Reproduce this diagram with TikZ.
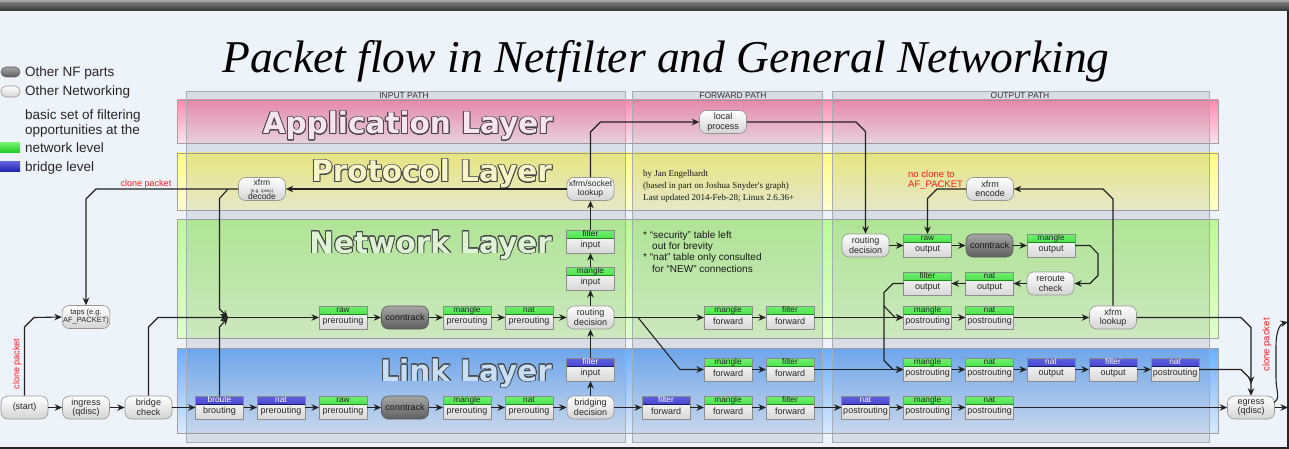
\documentclass[tikz,border=0pt]{standalone}
\usepackage{fontspec}
\setmainfont{Liberation Sans}
\newfontfamily\titlefont{Liberation Serif}
\newfontfamily\layerfont{DejaVu Sans}
\usepackage{contour}
\contourlength{0.8pt}
\contournumber{24}
\usetikzlibrary{arrows.meta,calc}

\definecolor{bgclr}{RGB}{238,242,249}
\definecolor{lineclr}{RGB}{34,34,34}
\definecolor{netborder}{RGB}{150,150,150}
\definecolor{nodegray}{RGB}{212,212,212}
\definecolor{nfTop}{RGB}{165,165,165}
\definecolor{nfBot}{RGB}{95,95,95}
\definecolor{nfborder}{RGB}{90,90,90}
\definecolor{gtop}{RGB}{110,240,110}
\definecolor{gbot}{RGB}{30,200,30}
\definecolor{btop}{RGB}{95,95,225}
\definecolor{bbot}{RGB}{32,32,168}
\definecolor{tblborder}{RGB}{140,140,140}
\definecolor{tblbottom}{RGB}{216,216,216}
\definecolor{appTop}{RGB}{255,140,176}
\definecolor{appBot}{RGB}{255,226,236}
\definecolor{protoTop}{RGB}{255,252,127}
\definecolor{protoBot}{RGB}{255,255,212}
\definecolor{netTop}{RGB}{188,250,151}
\definecolor{netBot}{RGB}{224,255,202}
\definecolor{linkTop}{RGB}{108,174,255}
\definecolor{linkBot}{RGB}{217,234,255}
\definecolor{panelfill}{RGB}{120,130,145}
\definecolor{panelborder}{RGB}{165,172,182}
\definecolor{layerborder}{RGB}{160,160,160}
\definecolor{layeroutline}{RGB}{70,70,70}
\definecolor{appfill}{RGB}{248,228,236}
\definecolor{protofill}{RGB}{246,244,200}
\definecolor{netfill}{RGB}{222,242,212}
\definecolor{linkfill}{RGB}{200,222,245}
\definecolor{redtxt}{RGB}{255,30,30}

\tikzset{
  netnode/.style={draw=netborder, line width=0.6pt, rounded corners=7pt, top color=white, bottom color=nodegray,
    minimum width=47pt, minimum height=23pt, inner sep=1pt, align=center,
    font=\fontsize{9}{9.5}\selectfont, text=black!85},
  nfnode/.style={netnode, top color=nfTop, bottom color=nfBot, draw=nfborder, text=black!90},
  tblbox/.style={draw=tblborder, line width=0.6pt, top color=white, bottom color=tblbottom,
    minimum width=48pt, minimum height=23pt, inner sep=0pt, outer sep=0pt},
  greenbar/.style={path picture={
    \shade[top color=gtop,bottom color=gbot] (path picture bounding box.north west) rectangle ($(path picture bounding box.north east)+(0,8)$);
    \draw[gbot!70!black, line width=0.4pt] ($(path picture bounding box.north west)+(0,8)$) -- ($(path picture bounding box.north east)+(0,8)$);}},
  bluebar/.style={path picture={
    \shade[top color=btop,bottom color=bbot] (path picture bounding box.north west) rectangle ($(path picture bounding box.north east)+(0,8)$);
    \draw[bbot!70!black, line width=0.4pt] ($(path picture bounding box.north west)+(0,8)$) -- ($(path picture bounding box.north east)+(0,8)$);}},
  chaintext/.style={font=\fontsize{9}{9}\selectfont, text=black!85, inner sep=0pt},
  greenname/.style={font=\fontsize{8.3}{8.3}\selectfont, text=black!85, inner sep=0pt},
  bluename/.style={font=\fontsize{8.3}{8.3}\selectfont, text=white, inner sep=0pt},
  flow/.style={draw=lineclr, line width=1.1pt, -{Stealth[length=7.5pt,width=6.5pt]}},
  hdr/.style={font=\fontsize{8.5}{8.5}\selectfont, text=black!80, inner sep=0pt},
  layertitle/.style={font=\layerfont\bfseries\fontsize{29.5}{29.5}\selectfont, anchor=base east, inner sep=0pt},
  legtext/.style={font=\fontsize{13.5}{13.5}\selectfont, anchor=base west, inner sep=0pt, text=black!85},
  redlabel/.style={font=\fontsize{9}{9}\selectfont, text=redtxt, inner sep=0pt},
  notetext/.style={font=\fontsize{10}{10}\selectfont, anchor=base west, inner sep=0pt, text=black!90},
  credittext/.style={font=\titlefont\fontsize{9}{9}\selectfont, anchor=base west, inner sep=0pt, text=black!90},
  panel/.style={fill=panelfill, fill opacity=0.18, draw=panelborder, line width=0.6pt},
  layerbox/.style={draw=layerborder, line width=0.6pt}
}

\newcommand\tbl[6]{%
  \node[tblbox,#6bar] (#1) at (#2,#3) {};
  \node[chaintext] (#1-c) at ($(#1.center)+(0,4)$) {#5};
  \node[#6name] (#1-t) at ($(#1.north)+(0,4)$) {#4};
}

\begin{document}
\begin{tikzpicture}[x=1pt,y=-1pt]
\useasboundingbox (0,0) rectangle (1289,449);
% background and screen frame
\fill[bgclr] (0,0) rectangle (1289,449);
\fill[black!35] (0,0) rectangle (1289,3);
\shade[top color=black!55, bottom color=black!80] (0,3) rectangle (1289,11);
\fill[black!85] (1286.5,11) rectangle (1289,449);
\fill[black!85] (0,447) rectangle (1289,449);

% layers
\shade[top color=appTop, bottom color=appBot, layerbox] (177,100) rectangle (1218,143);
\shade[top color=protoTop, bottom color=protoBot, layerbox] (177,153) rectangle (1218,210);
\shade[top color=netTop, bottom color=netBot, layerbox] (177,219) rectangle (1218,338);
\shade[top color=linkTop, bottom color=linkBot, layerbox] (177,348) rectangle (1218,433);

% path panels
\path[panel] (186,91) rectangle (625,442);
\path[panel] (632,91) rectangle (822,442);
\path[panel] (832,91) rectangle (1209,442);
\node[hdr] (hin) at (404,96) {INPUT PATH};
\node[hdr] (hfw) at (733,96) {FORWARD PATH};
\node[hdr] (hout) at (1020,96) {OUTPUT PATH};

% layer titles
\node[layertitle, text=appfill] (lapp) at (553,134) {\contour{layeroutline}{Application Layer}};
\node[layertitle, text=protofill] (lproto) at (552,182) {\contour{layeroutline}{Protocol Layer}};
\node[layertitle, text=netfill] (lnet) at (552,253) {\contour{layeroutline}{Network Layer}};
\node[layertitle, text=linkfill] (llink) at (552,381) {\contour{layeroutline}{Link Layer}};

% title
\node[font=\titlefont\itshape\fontsize{45.5}{45.5}\selectfont, anchor=base, inner sep=0pt] (title) at (666,72.5) {Packet flow in Netfilter and General Networking};

% legend
\node[nfnode, minimum width=19pt, minimum height=10pt, rounded corners=5pt, inner sep=0pt] (lg1) at (10.5,72) {};
\node[netnode, minimum width=19pt, minimum height=11pt, rounded corners=5pt, inner sep=0pt] (lg2) at (10.5,91.5) {};
\node[legtext] (lgt1) at (25,77) {Other NF parts};
\node[legtext] (lgt2) at (25,96) {Other Networking};
\node[legtext] (lgt3) at (25,120) {basic set of filtering};
\node[legtext] (lgt4) at (25,135) {opportunities at the};
\node[legtext] (lgt5) at (25,153) {network level};
\node[legtext] (lgt6) at (25,171.5) {bridge level};
\node[top color=gtop, bottom color=gbot, minimum width=20pt, minimum height=10pt, inner sep=0pt] (lg3) at (10,148) {};
\node[top color=btop, bottom color=bbot, minimum width=20pt, minimum height=10pt, inner sep=0pt] (lg4) at (10,167) {};

% credits and notes
\node[credittext] (cr1) at (643,177) {by Jan Engelhardt};
\node[credittext] (cr2) at (643,189) {(based in part on Joshua Snyder's graph)};
\node[credittext] (cr3) at (643,200.5) {Last updated 2014-Feb-28; Linux 2.6.36+};
\node[notetext] (nt1) at (643,238.5) {* “security” table left};
\node[notetext] (nt2) at (652,249.5) {out for brevity};
\node[notetext] (nt3) at (643,260.5) {* “nat” table only consulted};
\node[notetext] (nt4) at (652,272) {for “NEW” connections};

% red labels
\node[redlabel] (rl1) at (146,184) {clone packet};
\node[redlabel, rotate=90] (rl2) at (17,364) {clone packet};
\node[redlabel, rotate=90, font=\fontsize{9.5}{9.5}\selectfont] (rl3) at (1267,345) {clone packet};
\node[redlabel, anchor=base west, font=\fontsize{9.5}{9.5}\selectfont] (rl4) at (908,177.5) {no clone to};
\node[redlabel, anchor=base west, font=\fontsize{9.5}{9.5}\selectfont] (rl5) at (908,187) {AF\_PACKET};

% ---------- nodes ----------
% link layer bottom row
\node[netnode] (start) at (24.5,407.5) {(start)};
\node[netnode] (ingress) at (86,407.5) {ingress\\(qdisc)};
\node[netnode] (bridgecheck) at (148.5,407.5) {bridge\\check};
\tbl{broute}{219.5}{407.5}{broute}{brouting}{blue}
\tbl{natpreb}{281}{407.5}{nat}{prerouting}{blue}
\tbl{rawpl}{343}{407.5}{raw}{prerouting}{green}
\node[nfnode] (ctl) at (405,407.5) {conntrack};
\tbl{manglepl}{467}{407.5}{mangle}{prerouting}{green}
\tbl{natpl}{529}{407.5}{nat}{prerouting}{green}
\node[netnode] (bridging) at (590.5,407.5) {bridging\\decision};
\tbl{filterinb}{590.5}{369.5}{filter}{input}{blue}
\tbl{filterfwb}{666}{407.5}{filter}{forward}{blue}
\tbl{manglefwl}{728}{407.5}{mangle}{forward}{green}
\tbl{filterfwl}{790}{407.5}{filter}{forward}{green}
\tbl{natpostb}{865.5}{407.5}{nat}{postrouting}{blue}
\tbl{manglepostl}{927.5}{407.5}{mangle}{postrouting}{green}
\tbl{natpostl}{989.5}{407.5}{nat}{postrouting}{green}
\node[netnode] (egress) at (1251,407.5) {egress\\(qdisc)};

% link layer upper row
\tbl{manglefwu}{728}{369.5}{mangle}{forward}{green}
\tbl{filterfwu}{790}{369.5}{filter}{forward}{green}
\tbl{manglepostu}{927.5}{369.5}{mangle}{postrouting}{green}
\tbl{natpostu}{989.5}{369.5}{nat}{postrouting}{green}
\tbl{natoutb}{1051}{369.5}{nat}{output}{blue}
\tbl{filteroutb}{1113}{369.5}{filter}{output}{blue}
\tbl{natpostb2}{1175}{369.5}{nat}{postrouting}{blue}

% network layer row
\node[netnode, font=\fontsize{7.5}{8}\selectfont] (taps) at (86,317) {taps (e.g.\\AF\_PACKET)};
\tbl{rawpn}{343}{317.5}{raw}{prerouting}{green}
\node[nfnode] (ctn) at (405,317.5) {conntrack};
\tbl{manglepn}{467}{317.5}{mangle}{prerouting}{green}
\tbl{natpn}{529}{317.5}{nat}{prerouting}{green}
\node[netnode] (routing) at (590.5,317.5) {routing\\decision};
\tbl{mangleinn}{590.5}{278.5}{mangle}{input}{green}
\tbl{filterinn}{590.5}{241.5}{filter}{input}{green}
\tbl{manglefwn}{728}{317.5}{mangle}{forward}{green}
\tbl{filterfwn}{790}{317.5}{filter}{forward}{green}
\tbl{manglepostn}{927.5}{317.5}{mangle}{postrouting}{green}
\tbl{natpostn}{989.5}{317.5}{nat}{postrouting}{green}
\node[netnode] (xfrmlookup) at (1113,317.5) {xfrm\\lookup};

% output path, network layer
\node[netnode] (routeout) at (865.5,245.5) {routing\\decision};
\tbl{rawout}{927.5}{245.5}{raw}{output}{green}
\node[nfnode] (ctout) at (989.5,245.5) {conntrack};
\tbl{mangleout}{1051}{245.5}{mangle}{output}{green}
\node[netnode] (reroute) at (1050.5,283.5) {reroute\\check};
\tbl{natout}{989.5}{283.5}{nat}{output}{green}
\tbl{filterout}{927.5}{283.5}{filter}{output}{green}

% protocol / application layer
\node[netnode, font=\fontsize{8.5}{7.5}\selectfont] (xfrmdec) at (262,189) {xfrm\\[-0.5pt]{\fontsize{4.5}{4.5}\selectfont (e.g. ipsec)}\\[-0.5pt]decode};
\node[netnode, font=\fontsize{8.5}{9.5}\selectfont] (xsl) at (590.5,189) {xfrm/socket\\lookup};
\node[netnode] (xfrmenc) at (990,189) {xfrm\\encode};
\node[netnode] (local) at (723,122) {local\\process};

% ---------- connectors ----------
\coordinate (merge) at (228,317.5);
\coordinate (xdsplit) at (228,189);
\coordinate (fwsplit) at (638,317.5);
\coordinate (opsplit) at (884,306);
\coordinate (egin) at (1251,384);
\coordinate (egout) at (1288,407.5);
\coordinate (clout) at (1288,322);

\draw[flow] (start) -- (ingress);
\draw[flow] (ingress) -- (bridgecheck);
\draw[flow] (bridgecheck) -- (broute);
\draw[flow] (start.north) -- (24.5,327) -- (34,317.5) -- (taps.west);
\draw[flow] (bridgecheck.north) -- (148.5,327) -- (158,317.5) -- (merge);
\draw[flow] (broute.north) -- (219.5,327) -- (merge);
\draw[flow] (xsl) -- (xfrmdec);
\draw[flow] (xfrmdec.west) -- (96,189) -- (86,199) -- (taps.north);
\draw[flow] (xdsplit) -- (219.5,198.5) -- (219.5,309) -- (merge);
\draw[flow] (merge) -- (rawpn);

\draw[flow] (rawpn) -- (ctn);
\draw[flow] (ctn) -- (manglepn);
\draw[flow] (manglepn) -- (natpn);
\draw[flow] (natpn) -- (routing);
\draw[flow] (routing) -- (mangleinn);
\draw[flow] (mangleinn) -- (filterinn);
\draw[flow] (filterinn) -- (xsl);
\draw[flow] (xsl.north) -- (590.5,132) -- (600.5,122) -- (local.west);
\draw[flow] (local.east) -- (856,122) -- (865.5,131.5) -- (routeout.north);

\draw[flow] (routing) -- (manglefwn);
\draw[flow] (fwsplit) -- (680,369.5) -- (manglefwu.west);
\draw[flow] (manglefwn) -- (filterfwn);
\draw[flow] (filterfwn) -- (manglepostn);
\draw[flow] (manglepostn) -- (natpostn);
\draw[flow] (natpostn) -- (xfrmlookup);
\draw[flow] (xfrmlookup.east) -- (1241,317.5) -- (1251,327.5) -- (egress.north);
\draw[flow] (xfrmlookup.north) -- (1113,199) -- (1103,189) -- (xfrmenc.east);
\draw[flow] (xfrmenc.west) -- (937,189) -- (927.5,198.5) -- (rawout.north);

\draw[flow] (routeout) -- (rawout);
\draw[flow] (rawout) -- (ctout);
\draw[flow] (ctout) -- (mangleout);
\draw[flow] (mangleout.east) -- (1090,245.5) -- (1098,254) -- (1098,275.5) -- (1090,283.5) -- (reroute.east);
\draw[flow] (reroute) -- (natout);
\draw[flow] (natout) -- (filterout);
\draw[flow] (filterout.west) -- (893,283.5) -- (884,292.5) -- (884,360.5) -- (893,369.5) -- (manglepostu.west);
\draw[flow] (opsplit) -- (895,317.5) -- (manglepostn.west);

\draw[flow] (manglefwu) -- (filterfwu);
\draw[flow] (filterfwu) -- (manglepostu);
\draw[flow] (manglepostu) -- (natpostu);
\draw[flow] (natpostu) -- (natoutb);
\draw[flow] (natoutb) -- (filteroutb);
\draw[flow] (filteroutb) -- (natpostb2);
\draw[flow] (natpostb2.east) -- (1241,369.5) -- (1251,379.5) -- (egin);

\draw[flow] (broute) -- (natpreb);
\draw[flow] (natpreb) -- (rawpl);
\draw[flow] (rawpl) -- (ctl);
\draw[flow] (ctl) -- (manglepl);
\draw[flow] (manglepl) -- (natpl);
\draw[flow] (natpl) -- (bridging);
\draw[flow] (bridging) -- (filterinb);
\draw[flow] (filterinb) -- (routing);
\draw[flow] (bridging) -- (filterfwb);
\draw[flow] (filterfwb) -- (manglefwl);
\draw[flow] (manglefwl) -- (filterfwl);
\draw[flow] (filterfwl) -- (natpostb);
\draw[flow] (natpostb) -- (manglepostl);
\draw[flow] (manglepostl) -- (natpostl);
\draw[flow] (natpostl) -- (egress);
\draw[flow] (egress) -- (egout);
\draw[flow] ($(egress.east)+(-1,-5)$) .. controls (1281,398) and (1276,392) .. (1276,378) -- (1276,346) .. controls (1276,331) and (1280,324) .. (clout);
\end{tikzpicture}
\end{document}
